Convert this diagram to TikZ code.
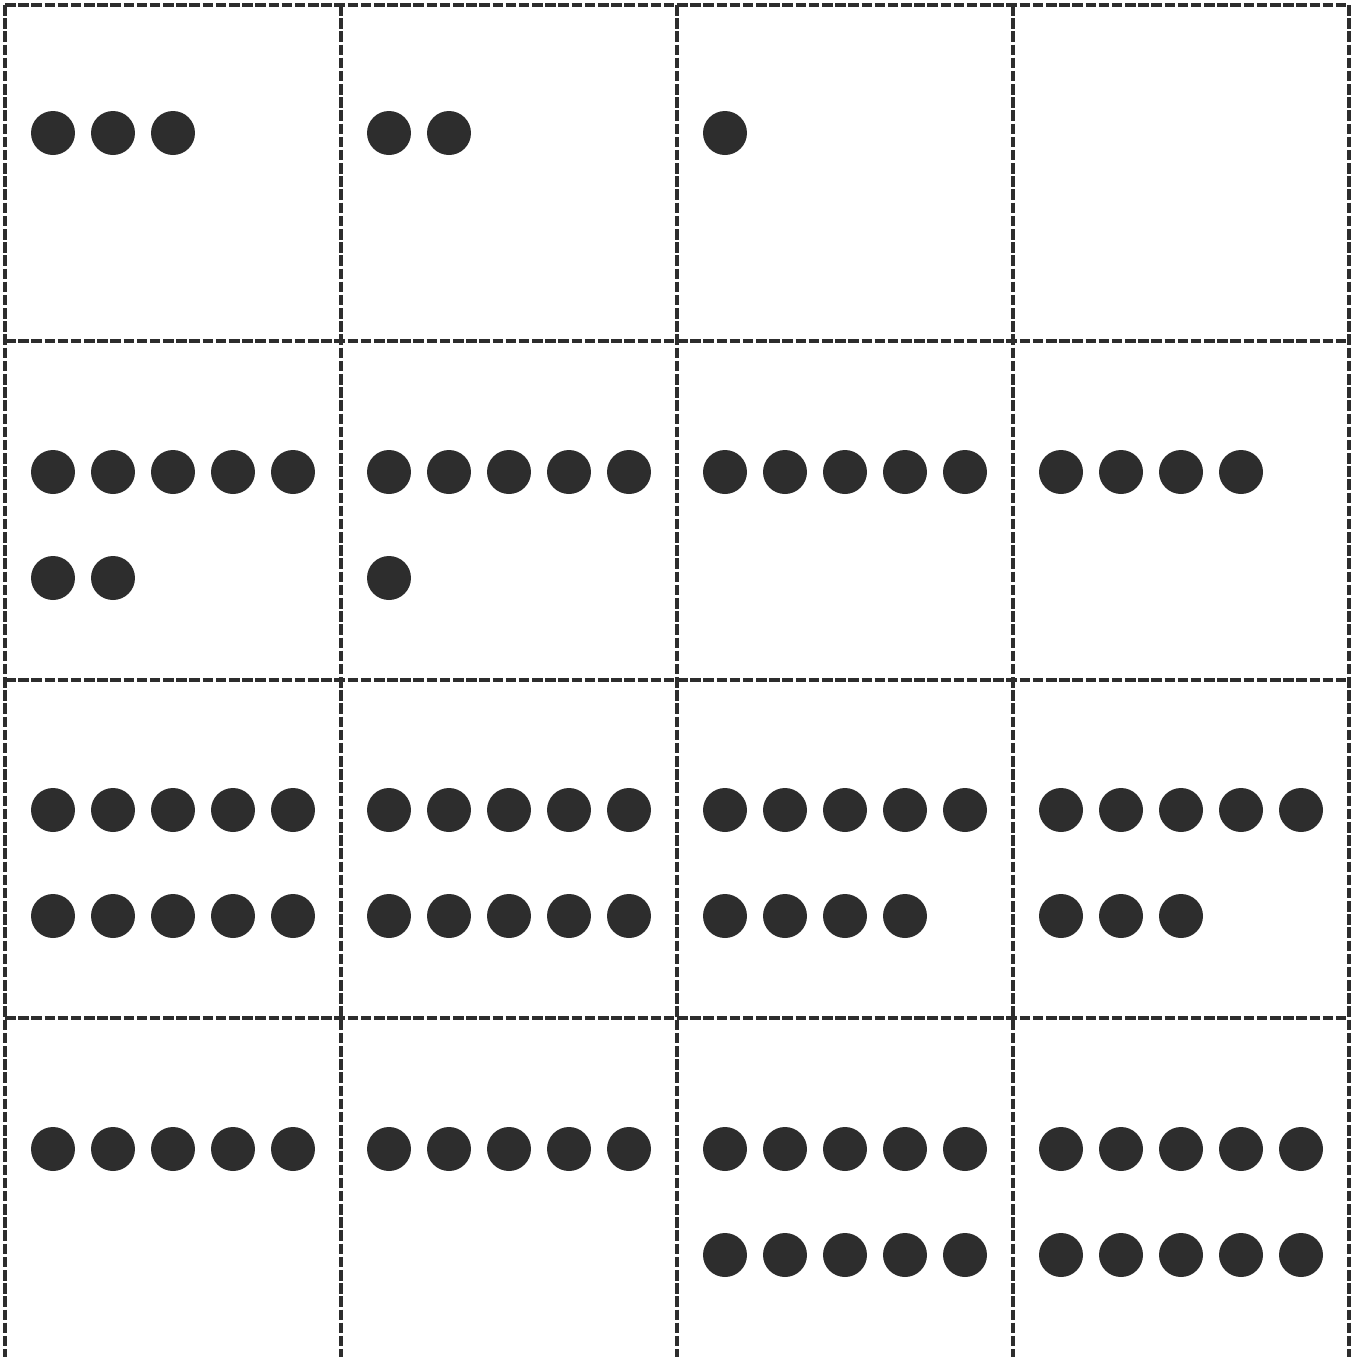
\documentclass[tikz,border=0pt]{standalone}
\usepackage{xcolor}
\usepackage{tikz}
\usetikzlibrary{positioning}

\definecolor{ink}{HTML}{2D2D2D}

\begin{document}
\begin{tikzpicture}[
    x=0.02cm, y=-0.02cm,
    cut/.style={draw=ink, line width=1.8pt, dash pattern=on 6pt off 1.5pt},
    dot/.style={circle, fill=ink, inner sep=0pt, minimum size=0.88cm}
]
\useasboundingbox (0,0) rectangle (1352,1357);

% card borders
\foreach \x in {5,341,677,1013,1349}
    \draw[cut] (\x,5) -- (\x,1357);
\foreach \y in {5,341,680,1018}
    \draw[cut] (5,\y) -- (1349,\y);

% dots in each card
\foreach \n [count=\i from 0] in {3,2,1,0, 7,6,5,4, 10,10,9,8, 5,5,10,10} {
    \pgfmathtruncatemacro{\col}{mod(\i,4)}
    \pgfmathtruncatemacro{\row}{div(\i,4)}
    \pgfmathsetmacro{\ytop}{{133,472,810,1149}[\row]}
    \ifnum\n>0
        \foreach \k in {1,...,\n} {
            \pgfmathtruncatemacro{\line}{div(\k-1,5)}
            \pgfmathtruncatemacro{\pos}{mod(\k-1,5)}
            \node[dot] (dot-\i-\k) at ({53+336*\col+60*\pos},{\ytop+106*\line}) {};
        }
    \fi
}
\end{tikzpicture}
\end{document}
